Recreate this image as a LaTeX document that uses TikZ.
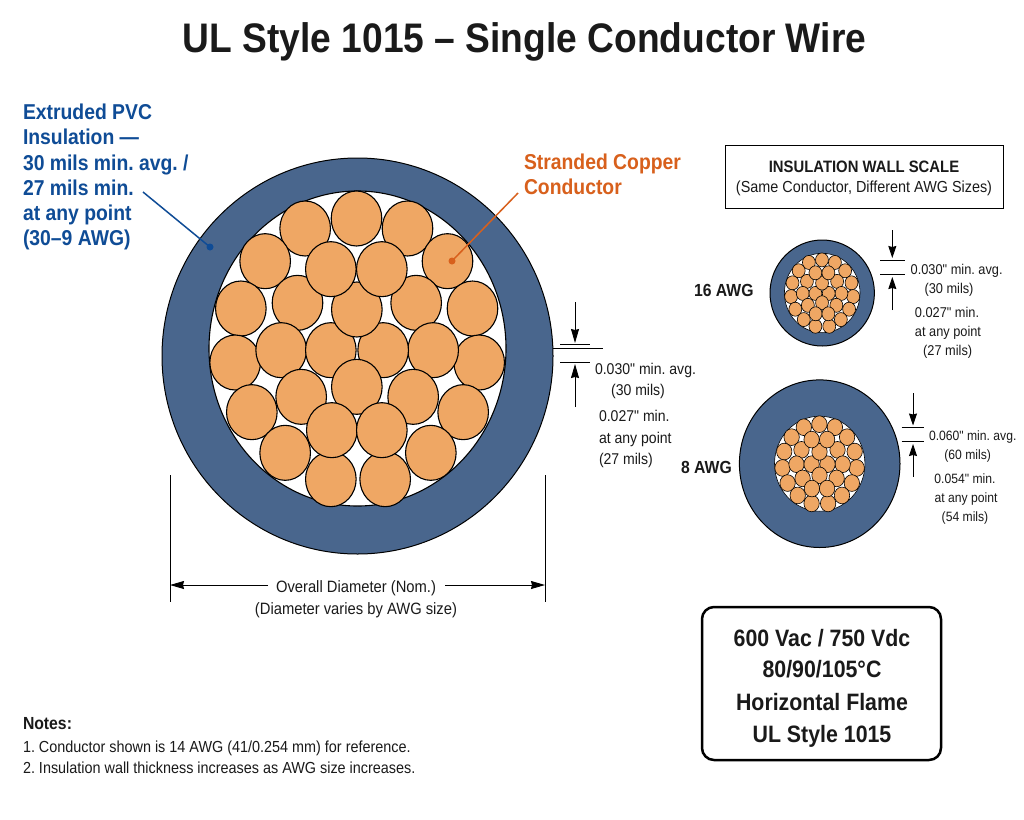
\documentclass[tikz,border=0pt]{standalone}
\usepackage{fontspec}
\setmainfont{Liberation Sans}
\newfontfamily\nsans[FakeStretch=0.9]{Liberation Sans}
\usetikzlibrary{arrows.meta}
\frenchspacing
\definecolor{jacket}{HTML}{49668D}
\definecolor{copper}{HTML}{EFA764}
\definecolor{labblue}{HTML}{0F4C96}
\definecolor{laborange}{HTML}{D8601C}
\definecolor{ink}{HTML}{1A1A1A}
\newcommand{\fs}[1]{\fontsize{#1}{#1}\selectfont}
\newcommand{\wirecore}[9]{%
  % cx cy outer-rx outer-ry core-dy inner-rx inner-ry scale strand-lw
  \draw[fill=jacket,draw=black,line width=1pt] (#1,#2) ellipse (#3 and #4);
  \begin{scope}[shift={(#1,#2+#5)}]
    \draw[fill=white,draw=black,line width=#9] (0,0) ellipse (#6 and #7);
    \begin{scope}[xscale=#8,yscale=#8]
      \foreach \a/\b in {592/205,438/235,745/235,318/333,865/333,245/475,940/475,415/458,771/458,228/637,960/637,366/600,822/600,515/600,672/600,593/478,515/357,668/357,278/786,912/786,426/740,762/740,593/710,378/908,815/908,515/987,678/987,518/840,668/840}
        \draw[fill=copper,draw=black,line width=#9] ({(\a-595)/3},{(\b-595)/3}) ellipse (25.3 and 27.5);
    \end{scope}
  \end{scope}}
\tikzset{
  lbl/.style={inner sep=0pt,outer sep=0pt,text=ink},
  txt/.style={lbl,font=\nsans\fs{#1},text height={0.72*#1 pt},text depth=0pt},
  btxt/.style={lbl,font=\bfseries\nsans\fs{#1},text height={0.72*#1 pt},text depth=0pt},
  dimline/.style={draw=black,line width=0.8pt},
  dimarrow/.style={draw=black,line width=0.9pt,-{Stealth[length=14pt,width=8pt,inset=1pt]}},
  smallarrow/.style={draw=black,line width=0.9pt,-{Stealth[length=12pt,width=8pt,inset=1pt]}},
  leaderblue/.style={draw=labblue,line width=1.5pt},
  leaderorange/.style={draw=laborange,line width=1.5pt},
  bluetext/.style={btxt=21.5,text=labblue,anchor=west},
  orangetext/.style={btxt=21.5,text=laborange,anchor=west},
}
\begin{document}
\begin{tikzpicture}[x=1pt,y=-1pt]
\useasboundingbox[fill=white] (0,0) rectangle (1024,819);

\node[btxt=41.3] (title) at (524.5,38) {UL Style 1015 – Single Conductor Wire};

% main wire
\wirecore{357.5}{356}{195.5}{198}{-7.5}{148.5}{157.5}{1}{1.1pt}

% callouts
\node[bluetext] (b1) at (23,112) {Extruded PVC};
\node[bluetext] (b2) at (23,137) {Insulation —};
\node[bluetext] (b3) at (23,163) {30 mils min. avg. /};
\node[bluetext] (b4) at (23,188) {27 mils min.};
\node[bluetext] (b5) at (23,213) {at any point};
\node[bluetext] (b6) at (23,238) {(30–9 AWG)};
\coordinate (bstart) at (143,192);
\coordinate (bdot) at (210,247);
\draw[leaderblue] (bstart) -- (bdot);
\fill[labblue] (bdot) circle (3.5);

\node[orangetext] (o1) at (524,162) {Stranded Copper};
\node[orangetext] (o2) at (524,187) {Conductor};
\coordinate (ostart) at (518,193);
\coordinate (odot) at (452,261);
\draw[leaderorange] (ostart) -- (odot);
\fill[laborange] (odot) circle (3.5);

% main wall dimension
\coordinate (mt) at (575,302); \coordinate (mtt) at (575,343);
\coordinate (mb) at (575,407); \coordinate (mbt) at (575,364);
\draw[dimarrow] (mt) -- (mtt);
\draw[dimarrow] (mb) -- (mbt);
\coordinate (m1a) at (560,344); \coordinate (m1b) at (590,344);
\coordinate (m2a) at (553,348.5); \coordinate (m2b) at (603,348.5);
\coordinate (m3a) at (560,362); \coordinate (m3b) at (590,362);
\draw[dimline] (m1a) -- (m1b);
\draw[dimline] (m2a) -- (m2b);
\draw[dimline] (m3a) -- (m3b);
\node[txt=15.6,anchor=west] (m4) at (595,369) {0.030" min. avg.};
\node[txt=15.6] (m5) at (638,390) {(30 mils)};
\node[txt=15.6,anchor=west] (m6) at (599,416) {0.027" min.};
\node[txt=15.6,anchor=west] (m7) at (599,438) {at any point};
\node[txt=15.6,anchor=west] (m8) at (599,459) {(27 mils)};

% overall diameter
\coordinate (da) at (170,475); \coordinate (db) at (170,602);
\coordinate (dc) at (545,475); \coordinate (dd) at (545,602);
\draw[dimline] (da) -- (db);
\draw[dimline] (dc) -- (dd);
\node[txt=16.4] (d1) at (356,587) {Overall Diameter (Nom.)};
\node[txt=16.4] (d2) at (356,609) {(Diameter varies by AWG size)};
\coordinate (dl) at (170,585); \coordinate (dr) at (545,585);
\coordinate (dls) at (268,585); \coordinate (drs) at (445,585);
\draw[dimarrow] (dls) -- (dl);
\draw[dimarrow] (drs) -- (dr);

% scale box
\node[draw=black,line width=0.8pt,minimum width=278pt,minimum height=63pt,inner sep=0pt] (scalebox) at (864,176.5) {};
\node[btxt=16.5] (s1) at (864,167) {INSULATION WALL SCALE};
\node[txt=16] (s2) at (864,187) {(Same Conductor, Different AWG Sizes)};

% 16 AWG
\wirecore{822.2}{293}{52.2}{53}{0}{37.8}{39.7}{0.2545}{0.6pt}
\node[btxt=17.5,anchor=west] (a16) at (694,289.7) {16 AWG};
\coordinate (p1) at (892.3,230); \coordinate (p1t) at (892.3,258);
\coordinate (p2) at (892.3,310); \coordinate (p2t) at (892.3,277);
\draw[smallarrow] (p1) -- (p1t);
\draw[smallarrow] (p2) -- (p2t);
\coordinate (p3a) at (880,260.7); \coordinate (p3b) at (905,260.7);
\coordinate (p4a) at (880,274.3); \coordinate (p4b) at (905,274.3);
\draw[dimline] (p3a) -- (p3b);
\draw[dimline] (p4a) -- (p4b);
\node[txt=14.2,anchor=west] (t1) at (910.7,269) {0.030" min. avg.};
\node[txt=14.2] (t2) at (949,288) {(30 mils)};
\node[txt=14.2] (t3) at (947,312.7) {0.027" min.};
\node[txt=14.2] (t4) at (948,331.7) {at any point};
\node[txt=14.2] (t5) at (947.7,350) {(27 mils)};

% 8 AWG
\wirecore{819.7}{463.7}{80.3}{83.8}{0}{45.2}{47.5}{0.304}{0.6pt}
\node[btxt=17.5,anchor=west] (a8) at (681,467) {8 AWG};
\coordinate (q1) at (913,393); \coordinate (q1t) at (913,425.5);
\coordinate (q2) at (913,476.7); \coordinate (q2t) at (913,444);
\draw[smallarrow] (q1) -- (q1t);
\draw[smallarrow] (q2) -- (q2t);
\coordinate (q3a) at (901.7,427.3); \coordinate (q3b) at (924,427.3);
\coordinate (q4a) at (901.7,441.7); \coordinate (q4b) at (924,441.7);
\draw[dimline] (q3a) -- (q3b);
\draw[dimline] (q4a) -- (q4b);
\node[txt=13.5,anchor=west] (u1) at (929,436) {0.060" min. avg.};
\node[txt=13.5] (u2) at (967.7,455) {(60 mils)};
\node[txt=13.5] (u3) at (965,479) {0.054" min.};
\node[txt=13.5] (u4) at (966,498) {at any point};
\node[txt=13.5] (u5) at (965,516.7) {(54 mils)};

% spec box
\node[draw=black,line width=2.5pt,rounded corners=12pt,minimum width=239pt,minimum height=153pt,inner sep=0pt] (spec) at (821.5,683.5) {};
\node[btxt=23.7] (c1) at (822,638) {600 Vac / 750 Vdc};
\node[btxt=23.7] (c2) at (822,669) {80/90/105°C};
\node[btxt=23.7] (c3) at (822,702) {Horizontal Flame};
\node[btxt=23.7] (c4) at (822,734) {UL Style 1015};

% notes
\node[btxt=17.5,anchor=west] (n0) at (23,723) {Notes:};
\node[txt=16,anchor=west] (n1) at (23,747) {1. Conductor shown is 14 AWG (41/0.254 mm) for reference.};
\node[txt=16,anchor=west] (n2) at (23,768) {2. Insulation wall thickness increases as AWG size increases.};
\end{tikzpicture}
\end{document}
